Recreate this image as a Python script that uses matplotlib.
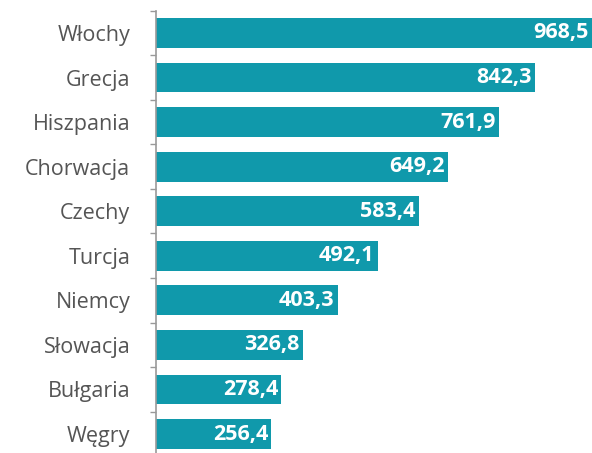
import matplotlib
matplotlib.use("Agg")
import matplotlib.pyplot as plt
import numpy as np

categories = ["Włochy", "Grecja", "Hiszpania", "Chorwacja", "Czechy", "Turcja",
              "Niemcy", "Słowacja", "Bułgaria", "Węgry"]
values = [968.5, 842.3, 761.9, 649.2, 583.4, 492.1, 403.3, 326.8, 278.4, 256.4]
labels = ["968,5", "842,3", "761,9", "649,2", "583,4", "492,1", "403,3", "326,8", "278,4", "256,4"]

plt.rcParams['font.family'] = ['Open Sans', 'DejaVu Sans']

fig = plt.figure(figsize=(5.92, 4.53), dpi=100)
ax = fig.add_axes([156/592, (453-456.3)/453, (592-156)/592, (456.3-10.7)/453])

color = "#1099AB"
y = np.arange(len(categories))
ax.barh(y, values, height=0.67, color=color, zorder=2)
ax.set_ylim(len(categories) - 0.5, -0.5)
ax.set_xlim(0, max(values))

for yi, v, lab in zip(y, values, labels):
    ax.text(v - 7, yi, lab, ha="right", va="center", color="white",
            fontsize=15.5, fontweight="bold")

ax.set_yticks(y)
ax.set_yticklabels(categories, fontsize=15.5, color="#555555")
ax.tick_params(axis="y", which="major", length=0, pad=18.5)
ax.set_yticks(np.arange(-0.5, len(categories), 1), minor=True)
ax.tick_params(axis="y", which="minor", length=4, color="#999999", width=1)
ax.set_xticks([])
for s in ["top", "right", "bottom"]:
    ax.spines[s].set_visible(False)
ax.spines["left"].set_color("#999999")
ax.spines["left"].set_linewidth(1.2)

fig.savefig("out.png", dpi=100)
